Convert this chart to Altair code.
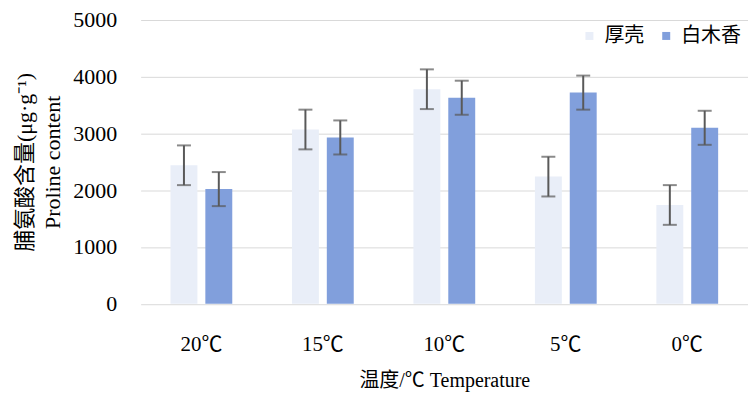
import altair as alt
import pandas as pd

categories = ["20℃", "15℃", "10℃", "5℃", "0℃"]
series = ["厚壳", "白木香"]
houke = [2440, 3070, 3780, 2240, 1740]
houke_err = [350, 350, 350, 350, 350]
baimu = [2020, 2930, 3630, 3720, 3100]
baimu_err = [300, 300, 300, 300, 300]

rows = []
for i, c in enumerate(categories):
    rows.append({"cat": c, "s": series[0], "v": houke[i], "lo": houke[i] - houke_err[i], "hi": houke[i] + houke_err[i]})
    rows.append({"cat": c, "s": series[1], "v": baimu[i], "lo": baimu[i] - baimu_err[i], "hi": baimu[i] + baimu_err[i]})
df = pd.DataFrame(rows)

FONT = "'Liberation Serif', 'Noto Sans CJK SC', serif"

x = alt.X("cat:N", sort=categories,
          scale=alt.Scale(paddingInner=0, paddingOuter=0),
          axis=alt.Axis(title="温度/℃ Temperature", labelAngle=0, labelFontSize=21,
                        titleFontSize=20, labelPadding=30, titlePadding=16,
                        ticks=False, domain=False, labelFont=FONT, titleFont=FONT,
                        titleFontWeight="normal", labelColor="#000", titleColor="#000"))
xo = alt.XOffset("s:N", sort=series,
                 scale=alt.Scale(paddingInner=0.229, paddingOuter=0.857))
color = alt.Color("s:N", sort=series,
                  scale=alt.Scale(domain=series, range=["#e9eef8", "#819fdc"]),
                  legend=alt.Legend(title=None, orient="none", direction="horizontal",
                                    legendX=440, legendY=6, symbolType="square",
                                    symbolSize=64, symbolStrokeWidth=0,
                                    labelFontSize=20, labelFont="'Noto Sans CJK SC'",
                                    labelColor="#000", columnPadding=12, labelOffset=5))

bars = alt.Chart(df).mark_bar(size=27).encode(
    x=x, xOffset=xo,
    y=alt.Y("v:Q", scale=alt.Scale(domain=[0, 5000]),
            axis=alt.Axis(title=["脯氨酸含量(μg·g⁻¹)", "Proline content"],
                          values=[0, 1000, 2000, 3000, 4000, 5000], format="d",
                          labelFontSize=22, titleFontSize=22, labelFont=FONT, titleFont=FONT,
                          titleFontWeight="normal", ticks=False, domain=False,
                          labelPadding=24, titlePadding=8, gridColor="#d9d9d9",
                          labelColor="#000", titleColor="#000", titleLineHeight=28)),
    color=color,
)
rule = alt.Chart(df).mark_rule(color="#595959", strokeWidth=2).encode(
    x=x, xOffset=xo, y="lo:Q", y2="hi:Q")
cap_lo = alt.Chart(df).mark_tick(color="#595959", thickness=2, size=14).encode(
    x=x, xOffset=xo, y="lo:Q")
cap_hi = alt.Chart(df).mark_tick(color="#595959", thickness=2, size=14).encode(
    x=x, xOffset=xo, y="hi:Q")

chart = alt.layer(bars, rule, cap_lo, cap_hi).properties(
    width=609, height=284.5,
    autosize=alt.AutoSizeParams(type="none"),
    padding={"left": 133, "top": 11.5, "right": 0, "bottom": 90},
).configure_view(stroke=None)

chart.save("out.html", embed_options={"renderer": "svg", "actions": False})
